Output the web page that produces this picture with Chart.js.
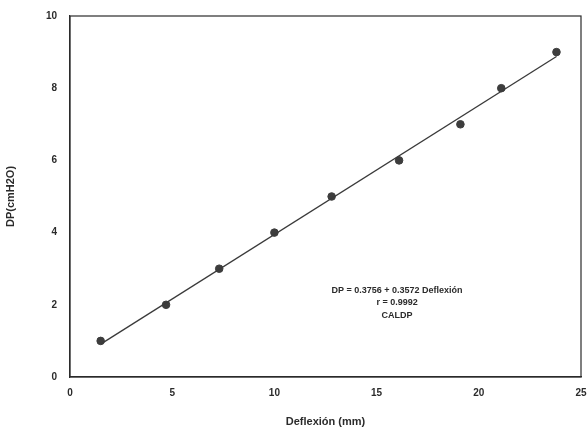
<!DOCTYPE html>
<html>
<head>
<meta charset="utf-8">
<script src="https://cdn.jsdelivr.net/npm/chart.js@4"></script>
<style>
  html, body { margin: 0; padding: 0; background: #fff; }
  #wrap { width: 588px; height: 433px; }
</style>
</head>
<body>
<div id="wrap"><canvas id="calChart" width="588" height="433"></canvas></div>
<script>
const deflexion = [1.5, 4.7, 7.3, 10.0, 12.8, 16.1, 19.1, 21.1, 23.8];
const dp = [1, 2, 3, 4, 5, 6, 7, 8, 9];
// fitted line ends, as drawn
const fitX = [1.5, 23.8];
const fitY = [0.91, 8.88];
const xTicks = [0, 5, 10, 15, 20, 25];
const yTicks = [0, 2, 4, 6, 8, 10];
const noteLines = ['DP = 0.3756 + 0.3572 Deflexión', 'r = 0.9992', 'CALDP'];

const ink = '#2b2b2b';
const font = 'Liberation Sans, Arial, sans-serif';

const frame = {
  id: 'frame',
  afterDraw(chart) {
    const { ctx, chartArea: a, scales } = chart;
    ctx.save();
    ctx.strokeStyle = ink;
    ctx.lineWidth = 1.2;
    ctx.strokeRect(a.left, a.top, a.right - a.left, a.bottom - a.top);
    // regression note
    const cx = scales.x.getPixelForValue(16.0);
    let cy = scales.y.getPixelForValue(2.4);
    ctx.fillStyle = ink;
    ctx.font = 'bold 9px ' + font;
    ctx.textAlign = 'center';
    ctx.textBaseline = 'middle';
    noteLines.forEach(t => { ctx.fillText(t, cx, cy); cy += 12.5; });
    ctx.restore();
  }
};

new Chart(document.getElementById('calChart').getContext('2d'), {
  type: 'scatter',
  data: {
    datasets: [
      {
        label: 'fit',
        type: 'line',
        data: fitX.map((x, i) => ({ x: x, y: fitY[i] })),
        borderColor: '#3a3a3a',
        borderWidth: 1.3,
        pointRadius: 0,
        fill: false
      },
      {
        label: 'CALDP',
        data: deflexion.map((x, i) => ({ x: x, y: dp[i] })),
        backgroundColor: '#3d3d3d',
        borderColor: '#3d3d3d',
        pointRadius: 3.8
      }
    ]
  },
  plugins: [frame],
  options: {
    responsive: false,
    animation: false,
    layout: { padding: { left: 0, right: 7, top: 16, bottom: 0 } },
    plugins: { legend: { display: false }, tooltip: { enabled: false } },
    scales: {
      x: {
        type: 'linear',
        min: 0, max: 25,
        afterBuildTicks: s => { s.ticks = xTicks.map(v => ({ value: v })); },
        afterFit: s => { s.height = 56; s.paddingLeft = 0; s.paddingRight = 0; },
        grid: { display: false, drawTicks: true, tickLength: 4 },
        border: { color: ink, width: 1.2 },
        ticks: { color: ink, font: { family: font, size: 10, weight: 'bold' }, padding: 6 },
        title: { display: true, text: 'Deflexión (mm)', color: ink,
                 font: { family: font, size: 11, weight: 'bold' }, padding: { top: 6 } }
      },
      y: {
        type: 'linear',
        min: 0, max: 10,
        afterBuildTicks: s => { s.ticks = yTicks.map(v => ({ value: v })); },
        afterFit: s => { s.width = 70; s.paddingTop = 0; s.paddingBottom = 0; },
        grid: { display: false, drawTicks: true, tickLength: 5 },
        border: { color: ink, width: 1.2 },
        ticks: { color: ink, font: { family: font, size: 10, weight: 'bold' }, padding: 8 },
        title: { display: true, text: 'DP(cmH2O)', color: ink,
                 font: { family: font, size: 11, weight: 'bold' }, padding: { bottom: 4 } }
      }
    }
  }
});
</script>
</body>
</html>
